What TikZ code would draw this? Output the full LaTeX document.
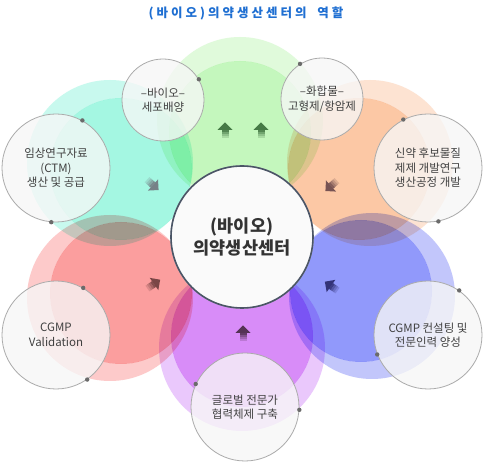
\documentclass[tikz,border=0pt]{standalone}
\usepackage{fontspec}
\setmainfont{Noto Sans CJK KR}
\newfontfamily\titlefont[LetterSpace=24]{Noto Sans CJK KR}
\definecolor{gR}{HTML}{E0FADB}\definecolor{gI}{HTML}{C4F7BD}
\definecolor{cR}{HTML}{C8F9EE}\definecolor{cI}{HTML}{A4F7E2}
\definecolor{oR}{HTML}{FDE3D2}\definecolor{oI}{HTML}{FCC8A5}
\definecolor{rR}{HTML}{FDCACA}\definecolor{rI}{HTML}{FB9E9E}
\definecolor{pR}{HTML}{EAC8FC}\definecolor{pI}{HTML}{D88CF8}
\definecolor{bR}{HTML}{C2C6FB}\definecolor{bI}{HTML}{9199FB}
\definecolor{titleblue}{HTML}{1F6FD2}
\definecolor{txt}{HTML}{404040}
\definecolor{ctrline}{HTML}{4B5566}
\newcommand\mypetal[6]{%
  \fill[#5, even odd rule, blend mode=multiply] (#1,#2) circle[radius=83] (#3,#4) circle[radius=71];
  \fill[#6, blend mode=multiply] (#3,#4) circle[radius=71];}
\newcommand\myarrow[4]{%
  \begin{scope}[shift={(#1,#2)}, rotate=#3]
    \fill[#4] (0,-7.5) -- (7.5,0) -- (0,7.5) -- cycle;
    \fill[#4, fill opacity=0.9] (-2,-3.5) rectangle (0.2,3.5);
    \fill[#4, fill opacity=0.65] (-4,-3.5) rectangle (-2,3.5);
    \fill[#4, fill opacity=0.42] (-6,-3.5) rectangle (-4,3.5);
    \fill[#4, fill opacity=0.22] (-8,-3.5) rectangle (-6,3.5);
  \end{scope}}
\tikzset{
  sat/.style={circle, draw=black!33, line width=0.8pt, fill=black!3, fill opacity=0.78,
    text opacity=1, text=txt, align=center, inner sep=0pt,
    font=\fontsize{11.5}{14.5}\selectfont},
  bigsat/.style={sat, minimum size=108pt},
  smallsat/.style={sat, minimum size=82pt},
  dotmark/.style={fill=black!58},
}
\begin{document}
\begin{tikzpicture}[x=1pt,y=-1pt]
\useasboundingbox (0,0) rectangle (483,462);
\fill[white] (0,0) rectangle (483,462);
% petals
\mypetal{240}{120}{240}{132}{gR}{gI}
\mypetal{110}{163}{121}{169}{cR}{cI}
\mypetal{370}{163}{359}{169}{oR}{oI}
\mypetal{110}{298}{121}{293}{rR}{rI}
\mypetal{372}{296}{361}{291}{bR}{bI}
\mypetal{242}{348}{242}{336}{pR}{pI}
% arrows
\myarrow{225}{130}{90}{black!55!green!45!gray}
\myarrow{261}{130}{90}{black!55!green!45!gray}
\myarrow{153}{185}{-42}{black!60!cyan!35!gray}
\myarrow{331}{186}{-138}{black!60!red!35!gray}
\myarrow{154}{284}{35}{black!55!red!45!gray}
\myarrow{331}{286}{145}{black!55!blue!60!gray}
\myarrow{243}{333}{90}{black!55!violet!60!gray}
% title
\node (title) at (246,13) {\titlefont\bfseries\fontsize{12.5}{13}\selectfont\color{titleblue}(바이오)의약생산센터의\hspace{5pt} 역할};
% satellites
\node[bigsat] (ctm) at (56,168) {임상연구자료\\(CTM)\\생산 및 공급};
\node[smallsat] (bio) at (163,100) {–바이오–\\세포배양};
\node[smallsat] (hwa) at (322,99) {–화합물–\\고형제/항암제};
\node[bigsat] (sin) at (428,168) {신약 후보물질\\제제 개발연구\\생산공정 개발};
\node[bigsat] (val) at (56,335) {CGMP\\Validation};
\node[bigsat] (glo) at (245,407) {글로벌 전문가\\협력체제 구축};
\node[bigsat] (cgmp) at (428,335) {CGMP 컨설팅 및\\전문인력 양성};
% dots
\foreach \n/\a in {ctm/61,ctm/265,bio/30,hwa/122,sin/117,sin/-79,val/60,val/-55,glo/155,glo/-3,cgmp/55,cgmp/201}
  \fill[dotmark] (\n.\a) circle[radius=2.2];
% center
\node[circle, minimum size=140pt, draw=ctrline!40, line width=3.5pt] (ctrglow) at (242,237) {};
\node[circle, minimum size=142pt, fill=black!2, draw=ctrline, line width=1.6pt, align=center,
  text=black!80, font=\bfseries\fontsize{17.5}{21.5}\selectfont, inner sep=0pt] (ctr) at (242,237) {(바이오)\\의약생산센터};
\end{tikzpicture}
\end{document}
